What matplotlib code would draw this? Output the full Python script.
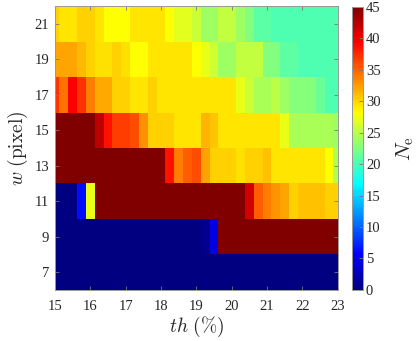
import numpy as np
import matplotlib
matplotlib.use('Agg')
import matplotlib.pyplot as plt
from matplotlib.colors import LinearSegmentedColormap

plt.rcParams['font.family'] = ['Liberation Serif', 'DejaVu Serif']
plt.rcParams['mathtext.fontset'] = 'cm'

# grid: threshold th (%) and window size w (pixel)
th = np.arange(15, 23.001, 0.25)
w = [7, 9, 11, 13, 15, 17, 19, 21]

# N_e values, one row per w (bottom to top), one column per th
ne_w7 = [0, 0, 0, 0, 0, 0, 0, 0, 0, 0, 0, 0, 0, 0, 0, 0, 0,
         0, 0, 0, 0, 0, 0, 0, 0, 0, 0, 0, 0, 0, 0, 0, 0]
ne_w9 = [0, 0, 0, 0, 0, 0, 0, 0, 0, 0, 0, 0, 0, 0, 0, 0, 0,
         0.7, 4.3, 45, 45, 45, 45, 45, 45, 45, 45, 45, 45, 45, 45, 45, 45]
ne_w11 = [0, 0, 0, 6.3, 27.1, 45, 45, 45, 45, 45, 45, 45, 45, 45, 45, 45, 45,
          45, 45, 45, 45, 45, 41.4, 35.2, 33.8, 32.7, 32, 30.2, 30.9, 30.9, 30.9, 30.2, 30.2]
ne_w13 = [45, 45, 45, 45, 45, 45, 45, 45, 45, 45, 45, 45, 45, 38.6, 33.8, 35.2, 35.9,
          32.3, 30.2, 30.2, 30.2, 29.5, 30.2, 30.2, 30.9, 29.2, 29.2, 29.2, 29.2, 29.2, 29.2, 28.1, 24.6]
ne_w15 = [45, 45, 45, 45, 45, 42.2, 38.6, 36.7, 36.7, 35.9, 33, 30.2, 30.2, 30.2, 29.3, 29.3, 29.3,
          31.3, 30.6, 29.3, 29.3, 29.3, 29.3, 29.3, 29.3, 29.3, 27.1, 24.3, 24.3, 24.3, 24.3, 24.3, 23.9]
ne_w17 = [37, 34.4, 39.4, 37.2, 33.8, 31.9, 31.9, 30.2, 30.2, 29.3, 29.3, 30.2, 29.3, 29.3, 29.3, 29.3, 29.3,
          29.3, 29.3, 29.3, 29.3, 27.1, 25.7, 24.3, 24.3, 25, 23.9, 22.8, 22.8, 22.8, 21.5, 20.3, 20.3]
ne_w19 = [32, 32, 32, 31.2, 30.2, 29.5, 29.5, 30.2, 29.5, 28.1, 28.1, 29.3, 29.3, 29.3, 29.3, 29.3, 28.1,
          27.1, 26, 23.9, 23.9, 25.4, 25.4, 25.4, 22.5, 22.5, 21, 21, 20.3, 20.3, 20.3, 20.3, 20.3]
ne_w21 = [30.1, 29.3, 29.3, 30.1, 30.1, 29.3, 28.1, 28.1, 28.1, 29.3, 29.3, 29.3, 29.3, 28.1, 26.8, 26.8, 25.7,
          23.9, 23.9, 25.4, 25.4, 23.9, 22.5, 20.9, 20.9, 20.3, 20.3, 20.3, 20.3, 20.3, 20.3, 20.3, 20.3]

Z = np.array([ne_w7, ne_w9, ne_w11, ne_w13, ne_w15, ne_w17, ne_w19, ne_w21])

# matlab style jet
jet_m = LinearSegmentedColormap('jet_m', {
    'red':   [(0, 0, 0), (0.375, 0, 0), (0.625, 1, 1), (0.875, 1, 1), (1, 0.5, 0.5)],
    'green': [(0, 0, 0), (0.125, 0, 0), (0.375, 1, 1), (0.625, 1, 1), (0.875, 0, 0), (1, 0, 0)],
    'blue':  [(0, 0.5, 0.5), (0.125, 1, 1), (0.375, 1, 1), (0.625, 0, 0), (1, 0, 0)],
}, N=256)

fig = plt.figure(figsize=(4.16, 3.41), dpi=100)
ax = fig.add_axes([0.132, 0.150, 0.680, 0.832])
pc = ax.pcolormesh(th, w, Z, cmap=jet_m, vmin=0, vmax=45, shading='nearest')
ax.set_xlim(15, 23)
ax.set_ylim(6, 22)
ax.set_xticks(range(15, 24))
ax.set_yticks(w)

txt = '#262626'
for sp in ax.spines.values():
    sp.set_color('#999999')
    sp.set_linewidth(0.7)
ax.tick_params(direction='in', length=3, width=0.6, color='#777777',
               top=True, right=True, labelsize=10.5, labelcolor=txt)
ax.tick_params(axis='x', pad=7)
ax.tick_params(axis='y', pad=4)
ax.set_xlabel(r'$th\ (\%)$', fontsize=14, color=txt, labelpad=2)
ax.set_ylabel(r'$w\ \mathrm{(pixel)}$', fontsize=14, color=txt, labelpad=3)

cax = fig.add_axes([0.846, 0.150, 0.027, 0.830])
cb = fig.colorbar(pc, cax=cax)
cb.set_ticks(range(0, 46, 5))
cb.outline.set_edgecolor('#999999')
cb.outline.set_linewidth(0.7)
cax.tick_params(direction='in', length=3, width=0.6, color='#777777',
                labelsize=10.5, labelcolor=txt, pad=2)
cb.set_label(r'$N_{\mathrm{e}}$', fontsize=15, color=txt, labelpad=10)

fig.savefig('out.png', dpi=100)
